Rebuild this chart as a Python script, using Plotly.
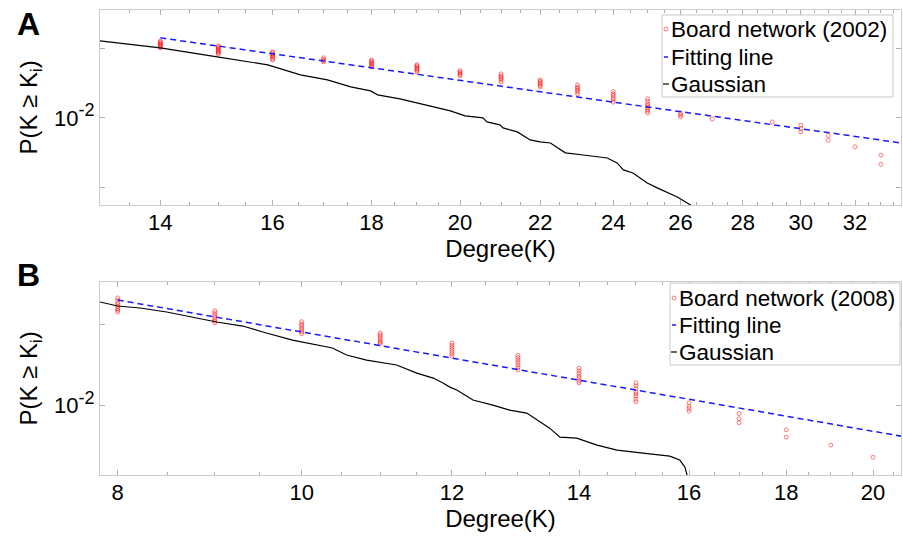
import math
import plotly.graph_objects as go

# ---------------- data ----------------
# Panel A: Board network (2002)
a_deg = [14, 15, 16, 17, 18, 19, 20, 21, 22, 23, 24, 25, 26, 27, 29, 30, 31, 32, 33]
a_obs = [
    [0.0215, 0.0213, 0.0211, 0.0209, 0.0207, 0.0205, 0.0203, 0.0201],
    [0.0205, 0.0203, 0.0201, 0.0199, 0.0197, 0.0195, 0.0193, 0.0191, 0.0189],
    [0.0193, 0.0191, 0.0189, 0.0187, 0.0185, 0.0183, 0.0180, 0.0178],
    [0.0182, 0.0179, 0.0177, 0.0175],
    [0.0178, 0.0176, 0.0174, 0.0172, 0.0170, 0.0168, 0.0166],
    [0.0170, 0.0168, 0.0166, 0.0164, 0.0162, 0.0160, 0.0158],
    [0.0160, 0.0158, 0.0156, 0.0154, 0.0152],
    [0.0155, 0.0152, 0.0150, 0.0148, 0.0146, 0.0143],
    [0.0146, 0.0144, 0.0142, 0.0140, 0.0138, 0.0136],
    [0.0139, 0.0136, 0.0134, 0.0132, 0.0130, 0.0127],
    [0.0130, 0.0127, 0.0125, 0.0122, 0.0120, 0.0117],
    [0.0121, 0.0118, 0.0115, 0.0113, 0.0111, 0.0109, 0.0107, 0.0105],
    [0.0105, 0.0103, 0.0101],
    [0.0099],
    [0.0096],
    [0.0093, 0.0090, 0.0087],
    [0.0084, 0.0080],
    [0.0075],
    [0.0069, 0.0063],
]
a_fit_k = [14, 34]
a_fit_p = [0.0222, 0.00774]
a_gauss_k = [13.03, 14.0, 14.98, 15.91, 16.54, 17.08, 17.56, 17.98, 18.13, 18.62,
             19.38, 19.77, 20.12, 20.55, 20.65, 20.97, 21.05, 21.41, 21.74, 22.0,
             22.27, 22.67, 23.16, 23.83, 24.11, 24.29, 24.57, 24.99, 25.29, 25.90,
             26.31, 26.55]
a_gauss_p = [0.02154, 0.0201, 0.01837, 0.01696, 0.01535, 0.0146, 0.01362, 0.01309,
             0.01258, 0.01208, 0.01116, 0.01072, 0.0102, 0.0100, 0.00961, 0.00933,
             0.00905, 0.0087, 0.00803, 0.00787, 0.00779, 0.00706, 0.00691, 0.00671,
             0.00639, 0.00596, 0.00578, 0.00523, 0.00498, 0.00455, 0.0042, 0.0040]

# Panel B: Board network (2008)
b_deg = [8, 9, 10, 11, 12, 13, 14, 15, 16, 17, 18, 19, 20]
b_obs = [
    [0.0250, 0.0245, 0.0240, 0.0236, 0.0232, 0.0228, 0.0225, 0.0222],
    [0.0224, 0.0220, 0.0216, 0.0212, 0.0208, 0.0205, 0.0202],
    [0.0204, 0.0200, 0.0197, 0.0193, 0.0190, 0.0187, 0.0184],
    [0.0185, 0.0182, 0.0179, 0.0176, 0.0173, 0.0171, 0.0169],
    [0.0170, 0.0167, 0.0164, 0.0161, 0.0158, 0.0155, 0.0152],
    [0.0153, 0.0150, 0.0147, 0.0144, 0.0141, 0.0138, 0.0135],
    [0.0137, 0.0134, 0.0131, 0.0128, 0.0126, 0.0123, 0.0121],
    [0.0121, 0.0118, 0.0115, 0.0112, 0.0110, 0.0108, 0.0105, 0.0103],
    [0.0102, 0.0099, 0.0097, 0.0095],
    [0.0093, 0.0089, 0.0086],
    [0.0081, 0.0076],
    [0.0071],
    [0.0064],
]
b_fit_k = [8, 21]
b_fit_p = [0.02456, 0.00753]
b_gauss_k = [7.83, 8.0, 8.22, 8.49, 9.02, 9.31, 9.58, 9.89, 10.38, 10.56, 10.82,
             11.03, 11.22, 11.50, 11.73, 11.87, 11.97, 12.07, 12.31, 12.61, 12.87,
             13.14, 13.35, 13.51, 13.68, 13.96, 14.31, 14.66, 15.13, 15.63, 15.82,
             15.92, 15.96, 15.97]
b_gauss_p = [0.02415, 0.02333, 0.02294, 0.02217, 0.02035, 0.01966, 0.01853, 0.01744,
             0.01629, 0.01534, 0.0147, 0.01433, 0.01409, 0.01315, 0.0126, 0.01207,
             0.01166, 0.01137, 0.01044, 0.0100, 0.00958, 0.00934, 0.00865, 0.00821,
             0.0076, 0.00754, 0.0071, 0.0068, 0.00663, 0.00646, 0.00625, 0.00588,
             0.0055, 0.0053]

a_xticks = [14, 16, 18, 20, 22, 24, 26, 28, 30, 32]
b_xticks = [8, 10, 12, 14, 16, 18, 20]
y_major = [0.01]
y_major_text = ["10<sup><span style='font-size:18px'>-2</span></sup>"]
a_y_minor = [0.005, 0.02]
b_y_minor = [0.02]

a_legend_names = ["Board network (2002)", "Fitting line", "Gaussian"]
b_legend_names = ["Board network (2008)", "Fitting line", "Gaussian"]


def flatten(deg, obs):
    xs, ys = [], []
    for k, vals in zip(deg, obs):
        for v in vals:
            xs.append(k)
            ys.append(v)
    return xs, ys


def minor_vals(lo, hi, majors):
    vals = []
    v = lo
    while v <= hi + 1e-9:
        if all(abs(v - m) > 1e-9 for m in majors):
            vals.append(v)
        v += 0.5
    return vals


FONT = "Liberation Sans, Arial, Helvetica, sans-serif"
RED = "rgba(255,0,0,0.5)"
BLUE = "#1a1aff"

# figure geometry (pixels) used for placing the hand-made legends / labels
W, H = 903, 540
ML, MR, MT, MB = 100, 2, 10, 65
PW, PH = W - ML - MR, H - MT - MB


def px(x):
    return (x - ML) / PW


def py(y):
    return (H - MB - y) / PH


fig = go.Figure()

ax_x, ax_y = flatten(a_deg, a_obs)
bx_x, bx_y = flatten(b_deg, b_obs)

marker = dict(symbol="circle-open", size=4, color=RED, line=dict(width=1, color=RED))
fig.add_trace(go.Scatter(x=ax_x, y=ax_y, mode="markers", name=a_legend_names[0],
                         marker=marker, xaxis="x", yaxis="y", showlegend=False))
fig.add_trace(go.Scatter(x=a_fit_k, y=a_fit_p, mode="lines", name=a_legend_names[1],
                         line=dict(color=BLUE, width=1.5, dash="6px,4px"),
                         xaxis="x", yaxis="y", showlegend=False))
fig.add_trace(go.Scatter(x=a_gauss_k, y=a_gauss_p, mode="lines", name=a_legend_names[2],
                         line=dict(color="black", width=1.2),
                         xaxis="x", yaxis="y", showlegend=False))

fig.add_trace(go.Scatter(x=bx_x, y=bx_y, mode="markers", name=b_legend_names[0],
                         marker=marker, xaxis="x2", yaxis="y2", showlegend=False))
fig.add_trace(go.Scatter(x=b_fit_k, y=b_fit_p, mode="lines", name=b_legend_names[1],
                         line=dict(color=BLUE, width=1.5, dash="6px,4px"),
                         xaxis="x2", yaxis="y2", showlegend=False))
fig.add_trace(go.Scatter(x=b_gauss_k, y=b_gauss_p, mode="lines", name=b_legend_names[2],
                         line=dict(color="black", width=1.2),
                         xaxis="x2", yaxis="y2", showlegend=False))

common_axis = dict(showline=True, linecolor="#cccccc", linewidth=1, mirror="ticks",
                   ticks="inside", tickcolor="#b0b0b0", ticklen=5, showgrid=False,
                   zeroline=False, automargin=False,
                   tickfont=dict(family=FONT, size=22, color="black"),
                   title_font=dict(family=FONT, size=24, color="black"))

# ---- hand-made legends (small symbols just before the text, like the original) ----
shapes = []
annotations = []


def add_legend(box, names, text_x, rows, sym_x):
    x0, y0, x1, y1 = box
    shapes.append(dict(type="rect", xref="paper", yref="paper",
                       x0=px(x0), x1=px(x1), y0=py(y1), y1=py(y0),
                       line=dict(color="#c8c8c8", width=1), fillcolor="white", layer="above"))
    shapes.append(dict(type="circle", xref="paper", yref="paper",
                       x0=px(sym_x - 2), x1=px(sym_x + 2), y0=py(rows[0] + 2), y1=py(rows[0] - 2),
                       line=dict(color="rgba(255,0,0,0.5)", width=1), layer="above"))
    shapes.append(dict(type="line", xref="paper", yref="paper",
                       x0=px(sym_x - 2), x1=px(sym_x + 2), y0=py(rows[1]), y1=py(rows[1]),
                       line=dict(color=BLUE, width=1.5), layer="above"))
    shapes.append(dict(type="line", xref="paper", yref="paper",
                       x0=px(sym_x - 3), x1=px(sym_x + 3), y0=py(rows[2]), y1=py(rows[2]),
                       line=dict(color="black", width=1.2), layer="above"))
    for name, ry in zip(names, rows):
        annotations.append(dict(text=name, xref="paper", yref="paper",
                                x=px(text_x), y=py(ry), xanchor="left", yanchor="middle",
                                showarrow=False, borderpad=0,
                                font=dict(family=FONT, size=22.5, color="black")))


add_legend((662, 15, 893, 97), a_legend_names, 670, [29, 57, 84], 666)
add_legend((670, 283, 900, 365), b_legend_names, 678, [298, 325, 352], 674)

annotations.append(dict(text="<b>A</b>", xref="paper", yref="paper", x=px(28), y=py(24),
                        xanchor="center", yanchor="middle", showarrow=False,
                        font=dict(family=FONT, size=32, color="black")))
annotations.append(dict(text="<b>B</b>", xref="paper", yref="paper", x=px(28), y=py(275),
                        xanchor="center", yanchor="middle", showarrow=False,
                        font=dict(family=FONT, size=32, color="black")))

fig.update_layout(
    width=W, height=H,
    margin=dict(l=ML, r=MR, t=MT, b=MB, autoexpand=False),
    paper_bgcolor="white", plot_bgcolor="white",
    font=dict(family=FONT, color="black"),
    showlegend=False,
    xaxis=dict(type="log", domain=[0, 1], anchor="y",
               range=[math.log10(13.03), math.log10(33.8)],
               tickvals=a_xticks, ticktext=[str(t) for t in a_xticks], ticklabelstandoff=-2,
               minor=dict(tickvals=minor_vals(13.0, 33.5, a_xticks), ticks="inside", ticklen=3, tickcolor="#b0b0b0"),
               title=dict(text="Degree(K)", standoff=0), **common_axis),
    yaxis=dict(type="log", domain=[py(205), py(10)], anchor="x",
               range=[math.log10(0.0042), math.log10(0.0293)],
               tickvals=y_major, ticktext=y_major_text,
               minor=dict(tickvals=a_y_minor, ticks="inside", ticklen=5, tickcolor="#b0b0b0"),
               title=dict(text="P(K ≥ K<sub>i</sub>)", standoff=9), **common_axis),
    xaxis2=dict(type="log", domain=[0, 1], anchor="y2",
                range=[math.log10(7.83), math.log10(20.69)],
                tickvals=b_xticks, ticktext=[str(t) for t in b_xticks], ticklabelstandoff=-2,
                minor=dict(tickvals=minor_vals(7.5, 20.5, b_xticks), ticks="inside", ticklen=3, tickcolor="#b0b0b0"),
                title=dict(text="Degree(K)", standoff=0), **common_axis),
    yaxis2=dict(type="log", domain=[0.0, py(282)], anchor="x2",
                range=[math.log10(0.0055), math.log10(0.02865)],
                tickvals=y_major, ticktext=y_major_text,
                minor=dict(tickvals=b_y_minor, ticks="inside", ticklen=5, tickcolor="#b0b0b0"),
                title=dict(text="P(K ≥ K<sub>i</sub>)", standoff=9), **common_axis),
    shapes=shapes,
    annotations=annotations,
)

# remove the browser's default 8px page margin so the figure fills the window exactly
fig.write_html("out.html",
               config={"displayModeBar": False},
               post_script="document.body.style.margin='0px';document.body.style.padding='0px';")
